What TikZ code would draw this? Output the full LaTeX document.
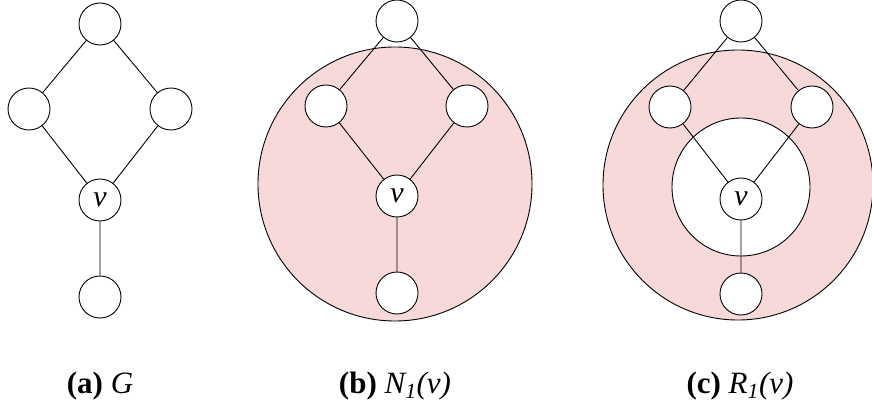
\documentclass[tikz,border=0pt]{standalone}
\usepackage{fontspec}
\setmainfont{Liberation Serif}
\newfontfamily\timesfont{Liberation Serif}
\usepackage{tikz}
\usetikzlibrary{positioning}
\definecolor{ringpink}{RGB}{248,217,217}

\begin{document}
\begin{tikzpicture}[x=1pt, y=-1pt,
			vertex/.style={draw, circle, fill=white, minimum size=42pt, inner sep=0pt, line width=0.9pt,
				font=\timesfont\fontsize{30}{30}\selectfont\itshape},
			edge/.style={line width=0.9pt},
			zone/.style={draw, line width=0.9pt},
			caption/.style={anchor=base, font=\timesfont\fontsize{31}{31}\selectfont}]
			\useasboundingbox (0,0) rectangle (872,403);
			% (a) der Graph G
			\node[vertex] (at) at (100,24) {};
			\node[vertex] (al) at (29,109) {};
			\node[vertex] (ar) at (171,109) {};
			\node[vertex] (av) at (100,200) {v};
			\node[vertex] (ab) at (100,297) {};
			\draw[edge] (at) -- (al) (at) -- (ar) (al) -- (av) (ar) -- (av) (av) -- (ab);
			% (b) Nachbarschaft N_1(v)
			\draw[zone, fill=ringpink] (395,184) circle [radius=137];
			\node[vertex] (bt) at (397,21) {};
			\node[vertex] (bl) at (326,106) {};
			\node[vertex] (br) at (467,106) {};
			\node[vertex] (bv) at (397,196) {v};
			\node[vertex] (bb) at (397,293) {};
			\draw[edge] (bt) -- (bl) (bt) -- (br) (bl) -- (bv) (br) -- (bv) (bv) -- (bb);
			% (c) Ring R_1(v)
			\draw[zone, fill=ringpink] (738,185) circle [radius=135];
			\draw[zone, fill=white] (741,187) circle [radius=69];
			\node[vertex] (ct) at (741,21) {};
			\node[vertex] (cl) at (670,107) {};
			\node[vertex] (cr) at (812,107) {};
			\node[vertex] (cv) at (741,199) {v};
			\node[vertex] (cb) at (741,294) {};
			\draw[edge] (ct) -- (cl) (ct) -- (cr) (cl) -- (cv) (cr) -- (cv) (cv) -- (cb);
			% Beschriftungen
			\node[caption] (capa) at (100,393) {\textbf{(a)} \textit{G}};
			\node[caption] (capb) at (395,393) {\textbf{(b)} \textit{N\textsubscript{1}(v)}};
			\node[caption] (capc) at (740,393) {\textbf{(c)} \textit{R\textsubscript{1}(v)}};
		\end{tikzpicture}
\end{document}
